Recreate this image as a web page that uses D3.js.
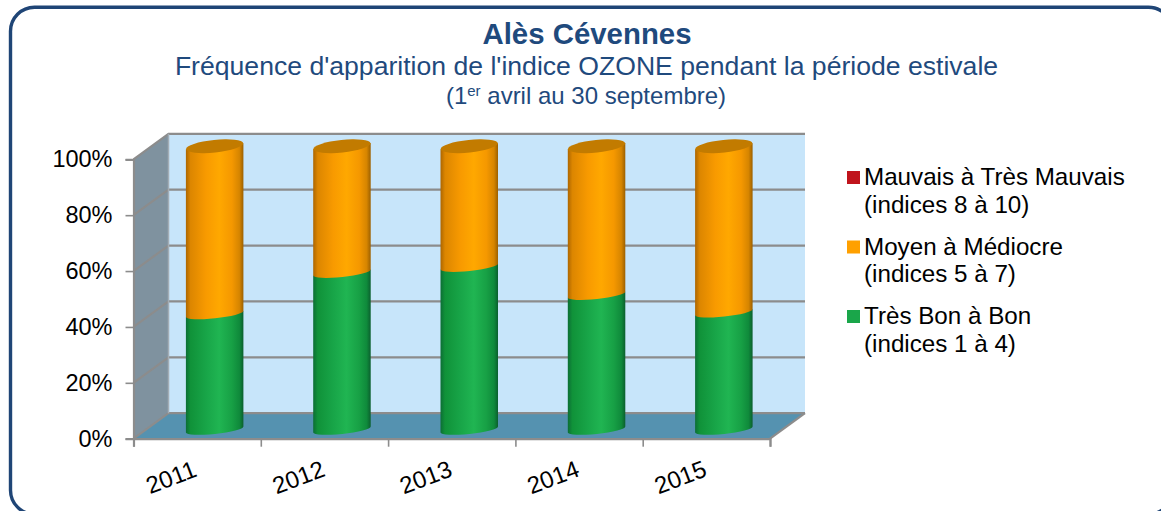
<!DOCTYPE html>
<html>
<head>
<meta charset="utf-8">
<style>
    html, body { margin: 0; padding: 0; background: #fff; overflow: hidden; }
    svg { display: block; }
    text { font-family: "Liberation Sans", Arial, sans-serif; }
</style>
</head>
<body>
<script src="https://d3js.org/d3.v7.min.js"></script>
<svg></svg>
<script>
    const years = ['2011', '2012', '2013', '2014', '2015'];
    const tresBon = [40.8, 55.4, 57.5, 47.6, 41.4];
    const moyen = [59.2, 44.6, 42.5, 52.4, 58.6];
    const mauvais = [0, 0, 0, 0, 0];
    const yTicks = [0, 20, 40, 60, 80, 100];

    const serieNames = [
        ['Mauvais à Très Mauvais', '(indices 8 à 10)'],
        ['Moyen à Médiocre', '(indices 5 à 7)'],
        ['Très Bon à Bon', '(indices 1 à 4)']
    ];
    const serieColors = ['#c0141c', '#ffa000', '#1aa64a'];

    const width = 1161;
    const height = 511;
    const navy = '#1f4576';
    const grey = '#8c8c8c';

    // profondeur de la 3D : décalage entre le devant et le fond
    const depthX = 35;
    const depthY = -25.5;

    const svg = d3.select('svg').attr('width', width).attr('height', height);

    const x = d3.scaleLinear().domain([0, years.length]).range([133.5, 770]);
    const y = d3.scaleLinear().domain([0, 100]).range([438.7, 159.3]);
    // les cylindres sont au milieu de la profondeur
    const yBar = d3.scaleLinear().domain([0, 100]).range([429.5, 146.2]);
    const barWidth = 57.5;

    // cadre
    svg.append('rect')
        .attr('x', 10.5).attr('y', 7.2)
        .attr('width', 1162).attr('height', 507)
        .attr('rx', 24).attr('ry', 24)
        .attr('fill', '#fff')
        .attr('stroke', navy)
        .attr('stroke-width', 3.4);

    // titres
    const titles = svg.append('g').attr('fill', '#1f4a7d').attr('text-anchor', 'middle');
    titles.append('text').attr('x', 587).attr('y', 43.5)
        .attr('font-size', 29.4).attr('font-weight', 'bold').text('Alès Cévennes');
    titles.append('text').attr('x', 586.5).attr('y', 74.5)
        .attr('font-size', 26.6).text("Fréquence d'apparition de l'indice OZONE pendant la période estivale");
    const sub = titles.append('text').attr('x', 586).attr('y', 104).attr('font-size', 24);
    sub.append('tspan').text('(1');
    sub.append('tspan').attr('font-size', 15).attr('dy', -8).text('er');
    sub.append('tspan').attr('dy', 8).text(' avril au 30 septembre)');

    // murs et sol
    const walls = svg.append('g');
    const poly = pts => pts.map(p => p.join(',')).join(' ');
    walls.append('polygon')
        .attr('points', poly([[x(0) + depthX, y(100) + depthY], [x(5) + depthX, y(100) + depthY], [x(5) + depthX, y(0) + depthY], [x(0) + depthX, y(0) + depthY]]))
        .attr('fill', '#c7e5fa');
    walls.append('polygon')
        .attr('points', poly([[x(0), y(100)], [x(0) + depthX, y(100) + depthY], [x(0) + depthX, y(0) + depthY], [x(0), y(0)]]))
        .attr('fill', '#7f929f');
    walls.append('polygon')
        .attr('points', poly([[x(0), y(0)], [x(5), y(0)], [x(5) + depthX, y(0) + depthY], [x(0) + depthX, y(0) + depthY]]))
        .attr('fill', '#5592b0');

    // quadrillage (mur gauche + fond)
    const grid = svg.append('g').attr('fill', 'none').attr('stroke', grey).attr('stroke-width', 2.2);
    grid.selectAll('path')
        .data(yTicks)
        .join('path')
        .attr('d', d => `M${x(0)},${y(d)} L${x(0) + depthX},${y(d) + depthY} H${x(5) + depthX}`);
    grid.append('path').attr('d', `M${x(0) + depthX},${y(100) + depthY} V${y(0) + depthY}`).attr('stroke-width', 1.5).attr('stroke', '#a3adb5');
    grid.append('path').attr('d', `M${x(5)},${y(0)} L${x(5) + depthX},${y(0) + depthY}`);

    // dégradés des cylindres
    const defs = svg.append('defs');
    const addGradient = (id, stops) => {
        defs.append('linearGradient').attr('id', id)
            .selectAll('stop')
            .data(stops)
            .join('stop')
            .attr('offset', d => d[0])
            .attr('stop-color', d => d[1]);
    };
    addGradient('gradVert', [[0, '#0c6e35'], [0.08, '#109239'], [0.35, '#18a548'], [0.58, '#20b552'], [0.8, '#17a045'], [0.93, '#0f8a3b'], [1, '#0b5f2e']]);
    addGradient('gradOrange', [[0, '#ad6600'], [0.08, '#dc8600'], [0.35, '#f89a00'], [0.58, '#ffa800'], [0.8, '#f59800'], [0.93, '#d68500'], [1, '#9c6000']]);
    addGradient('gradRouge', [[0, '#7a0c12'], [0.58, '#d0161e'], [1, '#7a0c12']]);

    const rx = barWidth / 2;
    const ryTop = 6.3;
    const ryArc = 4.4;
    const tilt = -6;
    const slope = Math.tan(tilt * Math.PI / 180) * rx;

    // tranche de cylindre : le bas suit l'ellipse inclinée
    const slicePath = (cx, v0, v1) => {
        const y0 = yBar(v0);
        const y1 = yBar(v1);
        return `M${cx - rx},${y0 - slope} A${rx},${ryArc} ${tilt} 0 0 ${cx + rx},${y0 + slope}` +
            ` L${cx + rx},${y1 + slope} L${cx - rx},${y1 - slope} Z`;
    };

    const layers = [
        { values: tresBon, fill: 'url(#gradVert)' },
        { values: moyen, fill: 'url(#gradOrange)' },
        { values: mauvais, fill: 'url(#gradRouge)' }
    ];
    const stacks = d3.stack().keys([0, 1, 2]).value((i, k) => layers[k].values[i])(d3.range(years.length));

    const bars = svg.append('g');
    stacks.forEach((serie, k) => {
        bars.append('g').selectAll('path')
            .data(serie.filter(d => d[1] > d[0]))
            .join('path')
            .attr('fill', layers[k].fill)
            .attr('d', d => slicePath(x(d.data + 0.5) + depthX / 2, d[0], d[1]));
    });
    // dessus des cylindres
    bars.append('g').selectAll('ellipse')
        .data(years)
        .join('ellipse')
        .attr('rx', rx).attr('ry', ryTop)
        .attr('fill', '#c27b00')
        .attr('transform', (d, i) => `translate(${x(i + 0.5) + depthX / 2},${yBar(100)}) rotate(${tilt})`);

    // axes
    const yAxis = d3.axisLeft(y)
        .tickValues(yTicks)
        .tickFormat(d => d + '%')
        .tickSize(8)
        .tickPadding(13);
    const xAxis = d3.axisBottom(x)
        .ticks(years.length)
        .tickFormat('')
        .tickSize(8);

    const gy = svg.append('g').attr('transform', `translate(${x(0)},0)`).call(yAxis);
    const gx = svg.append('g').attr('transform', `translate(0,${y(0)})`).call(xAxis);
    [gy, gx].forEach(g => {
        g.selectAll('.domain').attr('stroke', grey).attr('stroke-width', 2.2);
        g.selectAll('.tick line').attr('stroke', grey).attr('stroke-width', 1.6);
    });
    gy.selectAll('.tick text')
        .attr('font-family', '"Liberation Sans", Arial, sans-serif')
        .attr('font-size', 23.5)
        .attr('fill', '#000');

    svg.append('g').selectAll('text')
        .data(years)
        .join('text')
        .attr('text-anchor', 'middle')
        .attr('font-size', 24)
        .attr('fill', '#000')
        .attr('transform', (d, i) => `translate(${x(i + 0.5) - 23},485) rotate(-21)`)
        .text(d => d);

    // légende
    const legendTop = [171, 240.5, 310];
    const legend = svg.append('g').selectAll('g')
        .data(serieNames)
        .join('g')
        .attr('transform', (d, i) => `translate(847,${legendTop[i]})`);
    legend.append('rect')
        .attr('width', 13).attr('height', 13)
        .attr('fill', (d, i) => serieColors[i]);
    legend.append('text')
        .attr('x', 17).attr('y', 14)
        .attr('font-size', 24.2).attr('fill', '#000')
        .text(d => d[0]);
    legend.append('text')
        .attr('x', 17).attr('y', 41.5)
        .attr('font-size', 24.2).attr('fill', '#000')
        .text(d => d[1]);
</script>
</body>
</html>
